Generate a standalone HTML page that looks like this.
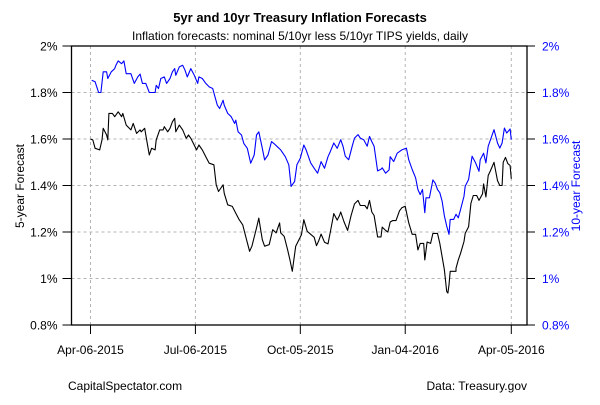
<!DOCTYPE html>
<html><head><meta charset="utf-8"><style>
body{margin:0;background:#fff;}
svg text{font-family:"Liberation Sans",Arial,sans-serif;}
</style></head><body>
<svg id="chart" width="600" height="400" viewBox="0 0 600 400" xmlns="http://www.w3.org/2000/svg">
<rect width="600" height="400" fill="#fff"/>
<text x="300" y="22" text-anchor="middle" font-size="13" font-weight="bold">5yr and 10yr Treasury Inflation Forecasts</text>
<text x="300" y="40" text-anchor="middle" font-size="12">Inflation forecasts: nominal 5/10yr less 5/10yr TIPS yields, daily</text>
<g id="grid"></g>
<g id="axes"></g>
<g id="series"></g>
<text transform="translate(24,186) rotate(-90)" text-anchor="middle" font-size="12">5-year Forecast</text>
<text transform="translate(580,186) rotate(-90)" text-anchor="middle" font-size="12" fill="#0000ff">10-year Forecast</text>
<text x="68" y="390" font-size="12">CapitalSpectator.com</text>
<text x="527" y="390" text-anchor="end" font-size="12">Data: Treasury.gov</text>
</svg>
<script>
const xTickDays=[0,91,182,273,365];
const xTickLabels=["Apr-06-2015","Jul-06-2015","Oct-05-2015","Jan-04-2016","Apr-05-2016"];
const yTicks=[0.8,1.0,1.2,1.4,1.6,1.8,2.0];
const yLeftLabels=["0.8%","1%","1.2%","1.4%","1.6%","1.8%","2%"];
const yRightLabels=["0.8%","1%","1.2%","1.4%","1.6%","1.8%","2%"];
const blueDays=[1,4,7,9,11,14,15,18,21,22,24,27,29,31,35,38,41,43,45,48,51,56,57,59,61,64,66,69,71,73,74,77,80,82,84,87,90,93,94,97,100,103,106,108,110,112,115,116,119,122,125,126,128,131,133,136,139,142,144,146,149,151,154,157,159,162,165,169,172,174,177,179,182,185,187,191,194,197,200,203,206,208,211,214,217,219,221,224,227,229,232,234,237,240,242,244,246,249,252,253,256,259,260,263,266,270,274,276,279,282,284,286,288,290,291,294,297,299,301,303,305,307,309,311,312,315,317,319,321,324,325,328,331,334,337,338,341,343,345,347,350,353,355,357,359,361,364,365];
const blueVals=[1.853,1.846,1.8,1.8,1.889,1.889,1.86,1.889,1.903,1.917,1.936,1.924,1.936,1.881,1.881,1.839,1.867,1.879,1.839,1.839,1.8,1.8,1.831,1.817,1.86,1.867,1.839,1.86,1.889,1.903,1.874,1.91,1.917,1.896,1.867,1.903,1.874,1.839,1.867,1.86,1.839,1.824,1.817,1.781,1.746,1.731,1.767,1.746,1.71,1.696,1.667,1.681,1.631,1.617,1.581,1.56,1.496,1.531,1.617,1.631,1.56,1.51,1.531,1.589,1.581,1.567,1.553,1.524,1.489,1.396,1.417,1.489,1.517,1.574,1.553,1.497,1.474,1.453,1.503,1.474,1.524,1.546,1.583,1.560,1.597,1.569,1.526,1.511,1.569,1.604,1.619,1.604,1.597,1.569,1.611,1.589,1.569,1.463,1.470,1.476,1.453,1.467,1.524,1.503,1.539,1.553,1.561,1.511,1.469,1.433,1.383,1.361,1.383,1.283,1.347,1.347,1.424,1.410,1.383,1.369,1.333,1.269,1.226,1.190,1.254,1.254,1.276,1.261,1.297,1.354,1.397,1.426,1.526,1.497,1.461,1.511,1.539,1.497,1.569,1.597,1.640,1.583,1.561,1.583,1.647,1.626,1.643,1.597];
const blackDays=[0,2,4,8,10,11,14,15,16,19,21,24,27,28,31,35,37,40,43,44,47,48,51,53,56,57,60,63,64,67,69,71,73,74,77,80,83,85,87,92,94,97,100,103,107,109,111,115,116,119,123,126,129,132,135,138,140,144,146,149,151,155,158,161,164,165,168,171,173,175,178,183,185,188,194,196,198,200,203,206,208,211,214,216,217,220,223,226,229,232,234,238,240,242,244,246,249,252,253,256,258,260,262,265,268,270,273,276,279,282,284,286,289,290,292,295,297,301,303,305,307,309,310,311,312,317,317,319,321,324,325,328,330,332,335,337,340,341,343,345,347,350,353,355,357,358,360,362,364,365];
const blackVals=[1.599,1.596,1.560,1.553,1.596,1.646,1.617,1.596,1.710,1.710,1.696,1.717,1.696,1.710,1.660,1.639,1.667,1.624,1.639,1.631,1.646,1.617,1.531,1.560,1.553,1.596,1.639,1.639,1.653,1.631,1.646,1.674,1.689,1.631,1.660,1.639,1.603,1.617,1.603,1.553,1.574,1.553,1.524,1.496,1.489,1.403,1.374,1.403,1.367,1.317,1.310,1.281,1.253,1.231,1.174,1.117,1.139,1.217,1.260,1.167,1.139,1.146,1.210,1.196,1.239,1.196,1.181,1.124,1.081,1.031,1.139,1.189,1.253,1.203,1.177,1.141,1.163,1.191,1.156,1.149,1.199,1.279,1.251,1.271,1.286,1.243,1.207,1.271,1.321,1.336,1.314,1.314,1.300,1.336,1.286,1.271,1.179,1.179,1.221,1.207,1.200,1.243,1.249,1.249,1.291,1.304,1.311,1.240,1.190,1.190,1.123,1.151,1.151,1.080,1.157,1.151,1.194,1.194,1.151,1.094,1.037,0.944,0.937,0.973,1.031,1.031,1.044,1.080,1.109,1.159,1.194,1.223,1.323,1.357,1.357,1.336,1.364,1.407,1.351,1.443,1.464,1.500,1.421,1.400,1.400,1.500,1.521,1.494,1.486,1.429];

const NS="http://www.w3.org/2000/svg";
const L=71.5,R=527,T=46,B=325;
const X0=90.5,X1=511.3;
function xs(d){return X0+d*(X1-X0)/365;}
function ys(v){return B-(v-0.8)*(B-T)/1.2;}
function mk(tag,attrs,parent){const e=document.createElementNS(NS,tag);for(const k in attrs)e.setAttribute(k,attrs[k]);parent.appendChild(e);return e;}
const grid=document.getElementById('grid'),axes=document.getElementById('axes'),series=document.getElementById('series');
xTickDays.forEach((d,i)=>{
  const g=mk('line',{x1:xs(d),x2:xs(d),y1:T,y2:B,stroke:'#b4b4b4','stroke-dasharray':'3,3'},grid);
  
  
  const t=mk('line',{x1:xs(d),x2:xs(d),y1:B,y2:B+9,stroke:'#000'},axes);
  
  
  const tx=mk('text',{x:xs(d),y:354,'text-anchor':'middle','font-size':12},axes);
  tx.textContent=xTickLabels[i];
  
  
});
yTicks.forEach((v,i)=>{
  const y=ys(v);
  if(v>0.8&&v<2.0){const g=mk('line',{x1:L,x2:R,y1:y,y2:y,stroke:'#b4b4b4','stroke-dasharray':'3,3'},grid);
  
  }
  const t=mk('line',{x1:L-9,x2:L,y1:y,y2:y,stroke:'#000'},axes);
  
  
  const tl=mk('text',{x:L-14,y:y+4.5,'text-anchor':'end','font-size':12},axes);
  tl.textContent=yLeftLabels[i];
  
  
  const t2=mk('line',{x1:R,x2:R+8,y1:y,y2:y,stroke:'#000'},axes);
  
  
  const tr=mk('text',{x:R+15,y:y+4.5,'font-size':12,fill:'#0000ff'},axes);
  tr.textContent=yRightLabels[i];
  
  
});
const box=mk('rect',{x:L,y:T,width:R-L,height:B-T,fill:'none',stroke:'#000','stroke-width':1.3},axes);


function line(days,vals,color,name){
  const p=mk('polyline',{points:days.map((d,i)=>xs(d).toFixed(1)+','+ys(vals[i]).toFixed(1)).join(' '),fill:'none',stroke:color,'stroke-width':1.1,'stroke-linejoin':'round'},series);
  
  
}
line(blueDays,blueVals,'#0000ff','series-10yr');
line(blackDays,blackVals,'#000000','series-5yr');
</script>
</body></html>
